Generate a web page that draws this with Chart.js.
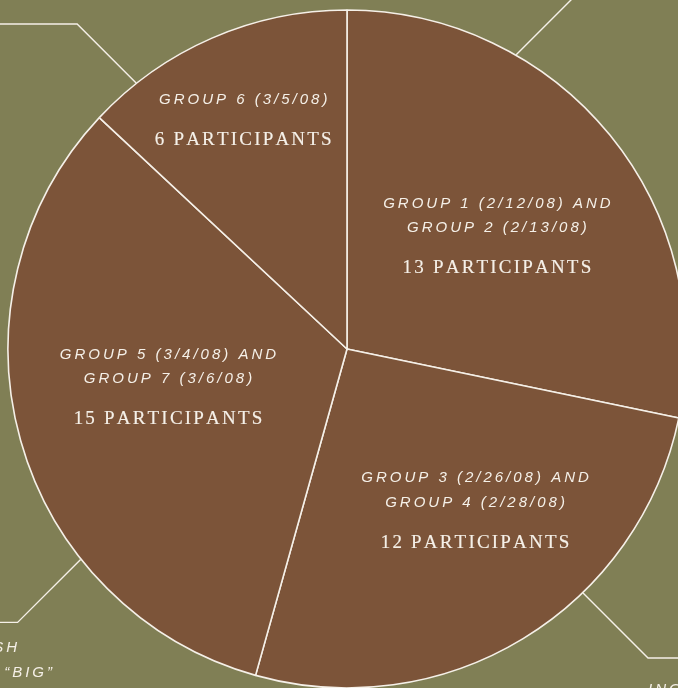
<!DOCTYPE html>
<html>
<head>
<meta charset="utf-8">
<script src="https://cdn.jsdelivr.net/npm/chart.js@4"></script>
<style>
  html, body { margin: 0; padding: 0; width: 678px; height: 688px; overflow: hidden; background: #807f55; }
  #wrap { position: absolute; left: 0; top: 0; width: 700px; height: 700px; }
</style>
</head>
<body>
<div id="wrap"><canvas id="chart" width="700" height="700"></canvas></div>
<script>
// slices, clockwise from 12 o'clock
const groups = [
  ['GROUP 1 (2/12/08) AND', 'GROUP 2 (2/13/08)'],
  ['GROUP 3 (2/26/08) AND', 'GROUP 4 (2/28/08)'],
  ['GROUP 5 (3/4/08) AND', 'GROUP 7 (3/6/08)'],
  ['GROUP 6 (3/5/08)']
];
const participants = [13, 12, 15, 6];

// fragments of the surrounding captions that run off the edge
const outsideText = ['SH', '\u201CBIG\u201D', 'ING'];

const TEXT = '#f5f0e8';
const BROWN = '#7c5439';
const SANS = 'italic 15px "Liberation Sans", Arial, sans-serif';
const SERIF = '19px "Liberation Serif", "Times New Roman", serif';

// draw text letter by letter with tracking; align: 'left' | 'center' | 'right'
function spacedText(ctx, text, x, y, spacing, align, stroke) {
  const chars = [...text];
  const widths = chars.map(c => ctx.measureText(c).width);
  const total = widths.reduce((a, b) => a + b, 0) + spacing * (chars.length - 1);
  let cx = align === 'center' ? x - total / 2 : align === 'right' ? x - total : x;
  ctx.textAlign = 'left';
  chars.forEach((c, i) => {
    ctx.fillText(c, cx, y);
    if (stroke) ctx.strokeText(c, cx, y);
    cx += widths[i] + spacing;
  });
}

// slice labels: placed along each arc's mid angle
const sliceLabels = {
  id: 'sliceLabels',
  afterDatasetsDraw(chart, args, opts) {
    const ctx = chart.ctx;
    const arcs = chart.getDatasetMeta(0).data;
    ctx.save();
    ctx.fillStyle = TEXT;
    ctx.strokeStyle = TEXT;
    ctx.lineWidth = 0.15;
    ctx.textBaseline = 'middle';
    arcs.forEach((arc, i) => {
      const mid = (arc.startAngle + arc.endAngle) / 2 + opts.shift[i] * Math.PI / 180;
      const r = arc.outerRadius * opts.radius[i];
      const cx = arc.x + Math.cos(mid) * r;
      const cy = arc.y + Math.sin(mid) * r;
      const lines = groups[i];
      const rows = lines.map((_, k) => k * 24.5);
      const countY = rows[rows.length - 1] + 40;
      const top = cy - countY / 2;

      ctx.font = SANS;
      lines.forEach((t, k) => spacedText(ctx, t, cx, top + rows[k], 3, 'center'));

      ctx.font = SERIF;
      spacedText(ctx, participants[i] + ' PARTICIPANTS', cx, top + countY, 2.2, 'center', true);
    });
    ctx.restore();
  }
};

// leader lines leaving the pie at 45 degrees
const callouts = {
  id: 'callouts',
  afterDatasetsDraw(chart, args, opts) {
    const ctx = chart.ctx;
    const arc = chart.getDatasetMeta(0).data[0];
    const R = arc.outerRadius + 0.5;
    ctx.save();
    ctx.strokeStyle = TEXT;
    ctx.lineWidth = 1.4;
    opts.lines.forEach(c => {
      const a = c.angle * Math.PI / 180 - Math.PI / 2;
      const x0 = arc.x + Math.cos(a) * R;
      const y0 = arc.y + Math.sin(a) * R;
      const x1 = x0 + c.dx * c.len;
      const y1 = y0 + c.dy * c.len;
      ctx.beginPath();
      ctx.moveTo(x0, y0);
      ctx.lineTo(x1, y1);
      if (c.edge !== undefined) ctx.lineTo(c.edge, y1);
      ctx.stroke();
    });

    ctx.fillStyle = TEXT;
    ctx.font = SANS;
    ctx.textBaseline = 'alphabetic';
    opts.text.forEach((t, i) => spacedText(ctx, outsideText[i], t.x, t.y, 3, t.align));
    ctx.restore();
  }
};

new Chart(document.getElementById('chart'), {
  type: 'pie',
  data: {
    labels: groups.map(g => g.join(' ')),
    datasets: [{
      data: participants,
      backgroundColor: BROWN,
      borderColor: TEXT,
      borderWidth: 1.6,
      hoverOffset: 0
    }]
  },
  options: {
    responsive: false,
    animation: false,
    events: [],
    layout: {
      padding: { left: 7.25, top: 9.25, right: 13.25, bottom: 11.25 }
    },
    plugins: {
      legend: { display: false },
      tooltip: { enabled: false },
      sliceLabels: {
        radius: [0.554, 0.608, 0.54, 0.742],
        shift: [2.1, -7.1, 3.65, -0.9]
      },
      callouts: {
        lines: [
          { angle: 321.6, dx: -1, dy: -1, len: 59, edge: 0 },
          { angle: 29.9, dx: 1, dy: -1, len: 80 },
          { angle: 231.7, dx: -1, dy: 1, len: 63, edge: 0 },
          { angle: 135.95, dx: 1, dy: 1, len: 65, edge: 678 }
        ],
        text: [
          { x: 17, y: 652, align: 'right' },
          { x: 52, y: 677, align: 'right' },
          { x: 648, y: 694, align: 'left' }
        ]
      }
    }
  },
  plugins: [sliceLabels, callouts]
});
</script>
</body>
</html>
